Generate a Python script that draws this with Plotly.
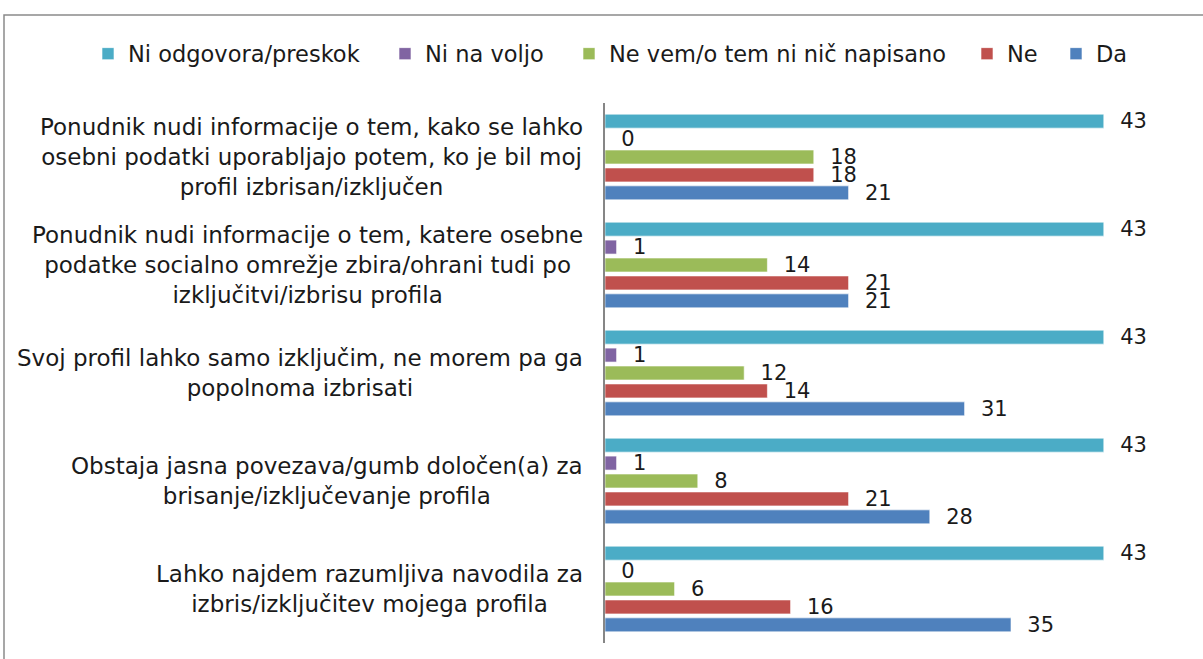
import plotly.graph_objects as go

categories = [
    "Ponudnik nudi informacije o tem, kako se lahko<br>osebni podatki uporabljajo potem, ko je bil moj<br>profil izbrisan/izključen",
    "Ponudnik nudi informacije o tem, katere osebne<br>podatke socialno omrežje zbira/ohrani tudi po<br>izključitvi/izbrisu profila",
    "Svoj profil lahko samo izključim, ne morem pa ga<br>popolnoma izbrisati",
    "Obstaja jasna povezava/gumb določen(a) za<br>brisanje/izključevanje profila",
    "Lahko najdem razumljiva navodila za<br>izbris/izključitev mojega profila",
]
series_names = ["Ni odgovora/preskok", "Ni na voljo", "Ne vem/o tem ni nič napisano", "Ne", "Da"]
ni_odgovora = [43, 43, 43, 43, 43]
ni_na_voljo = [0, 1, 1, 1, 0]
ne_vem = [18, 14, 12, 8, 6]
ne = [18, 21, 14, 21, 16]
da = [21, 21, 31, 28, 35]
series_values = [ni_odgovora, ni_na_voljo, ne_vem, ne, da]
colors = ["#4BACC6", "#8064A2", "#9BBB59", "#C0504D", "#4F81BD"]

# layout geometry (pixels)
L, T, PW, PH = 605, 103, 580, 540
legend_text_px = [128, 425, 609, 1007, 1096]   # x where each legend label starts
legend_y_px = 54

label_font = "DejaVu Sans"
legend_ids = ["legend", "legend2", "legend3", "legend4", "legend5"]
fig = go.Figure()
for name, vals, col, lid in zip(series_names, series_values, colors, legend_ids):
    fig.add_trace(go.Bar(
        y=categories, x=vals, name=name, orientation="h", legend=lid,
        marker=dict(color=col, line=dict(color="rgba(255,255,255,0.6)", width=1)),
        text=vals, texttemplate="  %{x}", textposition="outside",
        constraintext="none",
        textfont=dict(family="DejaVu Sans", size=21, color="#1a1a1a"),
        cliponaxis=False,
    ))

for cat in categories:
    fig.add_annotation(
        x=-0.0345, xref="paper", y=cat, yref="y", text=cat,
        xanchor="right", yanchor="middle", align="center", showarrow=False,
        font=dict(family=label_font, size=23, color="#1a1a1a"),
    )

fig.add_shape(type="rect", xref="paper", yref="paper",
              x0=(4 - L) / PW, x1=1.2, y0=-0.1, y1=(T + PH - 15) / PH,
              line=dict(color="#8a8a8a", width=1.5), fillcolor="rgba(0,0,0,0)", layer="below")

legend_y = (T + PH - legend_y_px) / PH
legends = {}
for lid, tx in zip(legend_ids, legend_text_px):
    legends[lid] = dict(
        orientation="h", xref="paper", yref="paper",
        x=(tx - 40 - L) / PW, xanchor="left", y=legend_y, yanchor="middle",
        font=dict(family=label_font, size=22.5, color="#1a1a1a"),
        itemwidth=30, bgcolor="rgba(0,0,0,0)",
    )

fig.update_layout(
    width=1203, height=659,
    margin=dict(l=L, r=1203 - L - PW, t=T, b=659 - T - PH, autoexpand=False),
    paper_bgcolor="white", plot_bgcolor="white",
    barmode="group", bargap=0.17, bargroupgap=0.22,
    showlegend=True,
    xaxis=dict(range=[0, 50], visible=False, showgrid=False, zeroline=False),
    yaxis=dict(autorange="reversed", showticklabels=False, showgrid=False,
               showline=True, linecolor="#868686", linewidth=1.5, ticks=""),
    **legends,
)
fig.write_html("out.html", config={"displayModeBar": False},
               post_script="document.body.style.margin='0';")
